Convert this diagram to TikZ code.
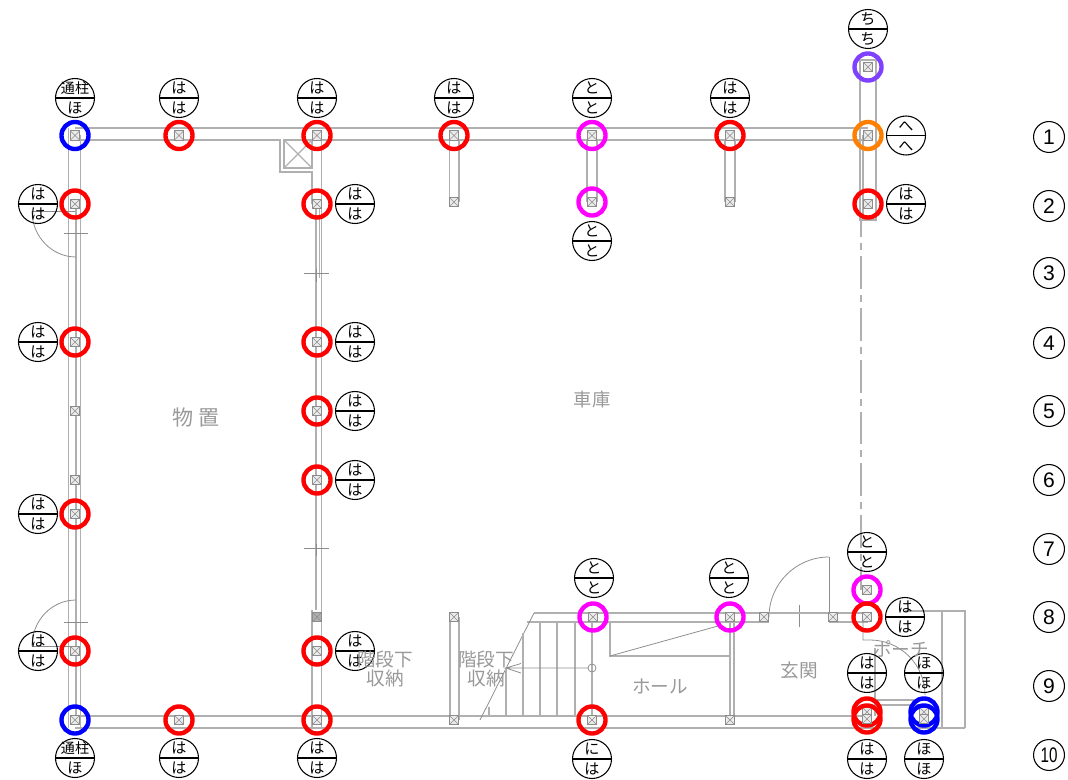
\documentclass[tikz,border=0pt]{standalone}
\usepackage{fontspec}
\setmainfont{Noto Sans CJK JP}
\newfontfamily\numfont{Liberation Sans}
\usetikzlibrary{shapes.multipart}
\definecolor{wallgray}{HTML}{B0B0B0}
\definecolor{postgray}{HTML}{8C8C8C}
\definecolor{roomgray}{HTML}{999999}
\definecolor{ringmagenta}{HTML}{FF00FF}
\definecolor{ringorange}{HTML}{FF8000}
\definecolor{ringpurple}{HTML}{8040FF}
\newcommand\kumi[2]{\rule[-2pt]{0pt}{1pt}#1\nodepart{lower}\rule{0pt}{8.6pt}#2}
\newcommand\tsuu{\makebox[10pt]{\fontsize{8}{8}\selectfont 通柱}}
\tikzset{
  wall/.style={draw=wallgray,line width=0.65pt},
  thinwall/.style={draw=wallgray!80!black,line width=0.45pt},
  post/.style={rectangle,draw=postgray,fill=black!8,line width=0.5pt,minimum size=5.6pt,inner sep=0pt,
    path picture={\draw[postgray,line width=0.35pt] (path picture bounding box.north west) -- (path picture bounding box.south east) (path picture bounding box.north east) -- (path picture bounding box.south west);}},
  ring/.style={circle,line width=2.5pt,minimum size=15.4pt,inner sep=0pt,outer sep=0pt},
  tagc/.style={circle split,draw=black,line width=0.6pt,minimum size=22.2pt,inner sep=0pt,font=\fontsize{8.6}{9}\selectfont},
  gridno/.style={circle,draw=black,line width=0.6pt,minimum size=17.6pt,inner sep=0pt,font=\numfont\fontsize{12}{12}\selectfont},
  room/.style={text=roomgray,inner sep=0pt,align=center,font=\fontsize{10.6}{11.2}\selectfont}
}
\begin{document}
\begin{tikzpicture}[x=0.02cm,y=0.02cm]
\useasboundingbox (0,0) rectangle (1068,-780);
% outer walls
\draw [wall] (75,-128) -- (868,-128);
\draw [wall] (75,-140) -- (280,-140) -- (280,-172) -- (312,-172) -- (312,-204);
\draw [wall] (312,-140) -- (868,-140);
\draw [wall] (284,-140) rectangle (312,-168);
\draw [wall] (284,-140) -- (312,-168) (312,-140) -- (284,-168);
\draw [wall] (68.5,-128) -- (68.5,-728);
\draw [wall] (80.5,-135) -- (80.5,-728);
\draw [wall] (76,-204) -- (76,-716);
\draw [wall] (321.7,-135) -- (321.7,-728);
\draw [wall] (316,-204) -- (316,-610);
\draw [wall] (319.3,-204) -- (319.3,-278);
\draw [wall] (312,-610) -- (312,-728);
\draw [wall] (75,-716) -- (868,-716);
\draw [wall] (75,-728) -- (965,-728);
% stubs
\draw [wall] (449.5,-140) -- (449.5,-202) (459,-140) -- (459,-202);
\draw [wall] (587,-140) -- (587,-202) (597,-140) -- (597,-202);
\draw [wall] (725,-140) -- (725,-202) (735,-140) -- (735,-202);
\draw [wall] (860,-60) -- (860,-220) -- (876,-220) -- (876,-60) -- cycle;
\draw [wall] (863,-135) -- (863,-220);
\draw [wall,line width=0.8pt,dash pattern=on 18.7pt off 3.4pt on 4pt off 3.4pt,dash phase=9pt] (861,-220) -- (861,-590);
\draw [wall] (450,-617) -- (450,-720) (459,-617) -- (459,-720);
% doors and ticks
\draw [thinwall] (32,-211) -- (75,-211);
\draw [thinwall] (32,-211) arc (180:270:44 and 46);
\draw [thinwall] (64,-233) -- (88,-233);
\draw [thinwall] (32,-646) -- (75,-646);
\draw [thinwall] (32,-646) arc (180:90:44 and 46);
\draw [thinwall] (64,-622) -- (88,-622);
\draw [thinwall] (304,-273) -- (329,-273) (316,-269) -- (316,-282);
\draw [thinwall] (304,-548) -- (329,-548) (316,-544) -- (316,-556);
\draw [thinwall] (829,-557) -- (829,-617);
\draw [thinwall] (829,-557) arc (90:180:60);
\draw [thinwall] (799,-605) -- (799,-627);
\draw [wall] (534,-613) -- (868,-613);
\draw [wall] (527,-622) -- (769,-622) (829,-622) -- (868,-622);
% stairs
\draw [thinwall] (534,-613) -- (480,-720);
\draw [wall] (489,-707) -- (489,-716);
\draw [wall] (506,-668) -- (506,-716);
\draw [wall] (523,-633) -- (523,-716);
\draw [wall] (540,-622) -- (540,-716);
\draw [wall] (557,-622) -- (557,-716);
\draw [wall] (575,-622) -- (575,-716);
\draw [wall] (592,-622) -- (592,-716);
\draw [thinwall] (592,-668) circle (4);
\draw [thinwall] (588,-668) -- (506,-668) -- (521,-663.5) (506,-668) -- (521,-673);
% hall
\draw [wall] (610,-622) -- (610,-656) -- (731,-656);
\draw [thinwall] (610,-656) -- (718,-626);
\draw [wall] (730,-622) -- (730,-716) (734,-622) -- (734,-716);
% porch
\draw [wall] (905,-611) -- (965,-611) -- (965,-728);
\draw [wall] (942,-611) -- (942,-728);
\draw [wall] (875,-648) -- (875,-716);
\draw [wall] (875,-700) -- (925,-700) (875,-705) -- (925,-705);
\draw [thinwall] (863,-617) -- (863,-640) -- (870,-640) arc (90:0:55);
% plain posts
\node [post] (pu2) at (454,-202) {};
\node [post] (pw2) at (730,-202) {};
\node [post] (pa5) at (75,-411) {};
\node [post] (pa6) at (75,-480) {};
\node [post,fill=postgray!70] (pc8) at (317,-617) {};
\node [post] (pd8) at (454,-617) {};
\node [post] (pd10) at (454,-720) {};
\node [post] (pg10) at (730,-720) {};
\node [post] (ph8) at (764,-617) {};
\node [post] (pi8) at (833,-617) {};
% posts with rings
\node [post] (pa1) at (75,-135.5) {};
\node [ring,draw=blue] (ra1) at (pa1) {};
\node [post] (pb1) at (179,-135.5) {};
\node [ring,draw=red] (rb1) at (pb1) {};
\node [post] (pc1) at (317,-135.5) {};
\node [ring,draw=red] (rc1) at (pc1) {};
\node [post] (pd1) at (454,-135.5) {};
\node [ring,draw=red] (rd1) at (pd1) {};
\node [post] (pe1) at (592,-135.5) {};
\node [ring,draw=ringmagenta] (re1) at (pe1) {};
\node [post] (pg1) at (730,-135.5) {};
\node [ring,draw=red] (rg1) at (pg1) {};
\node [post] (pj1) at (868,-135.5) {};
\node [ring,draw=ringorange] (rj1) at (pj1) {};
\node [post] (pj0) at (868,-67) {};
\node [ring,draw=ringpurple] (rj0) at (pj0) {};
\node [post] (pa2) at (75,-204) {};
\node [ring,draw=red] (ra2) at (pa2) {};
\node [post] (pc2) at (317,-204) {};
\node [ring,draw=red] (rc2) at (pc2) {};
\node [post] (pe2) at (592,-202) {};
\node [ring,draw=ringmagenta] (re2) at (pe2) {};
\node [post] (pj2) at (868,-204) {};
\node [ring,draw=red] (rj2) at (pj2) {};
\node [post] (pa4) at (75,-342) {};
\node [ring,draw=red] (ra4) at (pa4) {};
\node [post] (pc4) at (317,-342) {};
\node [ring,draw=red] (rc4) at (pc4) {};
\node [post] (pc5) at (317,-411) {};
\node [ring,draw=red] (rc5) at (pc5) {};
\node [post] (pc6) at (317,-480) {};
\node [ring,draw=red] (rc6) at (pc6) {};
\node [post] (pa7) at (75,-514) {};
\node [ring,draw=red] (ra7) at (pa7) {};
\node [post] (pj7) at (867,-590) {};
\node [ring,draw=ringmagenta] (rj7) at (pj7) {};
\node [post] (pe8) at (593,-617) {};
\node [ring,draw=ringmagenta] (re8) at (pe8) {};
\node [post] (pg8) at (730,-617) {};
\node [ring,draw=ringmagenta] (rg8) at (pg8) {};
\node [post] (pj8) at (867,-617) {};
\node [ring,draw=red] (rj8) at (pj8) {};
\node [post] (pa9) at (75,-651) {};
\node [ring,draw=red] (ra9) at (pa9) {};
\node [post] (pc9) at (317,-651) {};
\node [ring,draw=red] (rc9) at (pc9) {};
\node [post] (pa10) at (75,-720) {};
\node [ring,draw=blue] (ra10) at (pa10) {};
\node [post] (pb10) at (179,-720) {};
\node [ring,draw=red] (rb10) at (pb10) {};
\node [post] (pc10) at (317,-720) {};
\node [ring,draw=red] (rc10) at (pc10) {};
\node [post] (pe10) at (592,-720) {};
\node [ring,draw=red] (re10) at (pe10) {};
\node [post] (pj9) at (867,-712) {};
\node [ring,draw=red] (rj9) at (pj9) {};
\node [post] (pj10) at (867,-719) {};
\node [ring,draw=red] (rj10) at (pj10) {};
\node [post] (pk9) at (924,-712) {};
\node [ring,draw=blue] (rk9) at (pk9) {};
\node [post] (pk10) at (924,-719) {};
\node [ring,draw=blue] (rk10) at (pk10) {};
% sign tags
\node [tagc] (ta1) at (75,-98) {\kumi{\tsuu}{ほ}};
\node [tagc] (tb1) at (179,-98) {\kumi{は}{は}};
\node [tagc] (tc1) at (317,-98) {\kumi{は}{は}};
\node [tagc] (td1) at (454,-98) {\kumi{は}{は}};
\node [tagc] (te1) at (592,-98) {\kumi{と}{と}};
\node [tagc] (tg1) at (730,-98) {\kumi{は}{は}};
\node [tagc] (tj0) at (868,-29) {\kumi{ち}{ち}};
\node [tagc] (tj1) at (906,-135.5) {\kumi{へ}{へ}};
\node [tagc] (ta2) at (38,-204) {\kumi{は}{は}};
\node [tagc] (tc2) at (355,-204) {\kumi{は}{は}};
\node [tagc] (te2) at (592,-241) {\kumi{と}{と}};
\node [tagc] (tj2) at (906,-204) {\kumi{は}{は}};
\node [tagc] (ta4) at (38,-342) {\kumi{は}{は}};
\node [tagc] (tc4) at (355,-342) {\kumi{は}{は}};
\node [tagc] (tc5) at (355,-411) {\kumi{は}{は}};
\node [tagc] (tc6) at (355,-480) {\kumi{は}{は}};
\node [tagc] (ta7) at (38,-514) {\kumi{は}{は}};
\node [tagc] (tj7) at (867,-552) {\kumi{と}{と}};
\node [tagc] (te8) at (594,-578) {\kumi{と}{と}};
\node [tagc] (tg8) at (729,-578) {\kumi{と}{と}};
\node [tagc] (tj8) at (905,-617) {\kumi{は}{は}};
\node [tagc] (ta9) at (38,-651) {\kumi{は}{は}};
\node [tagc] (tc9) at (355,-651) {\kumi{は}{は}};
\node [tagc] (tj9) at (867,-673) {\kumi{は}{は}};
\node [tagc] (tk9) at (924,-673) {\kumi{ほ}{ほ}};
\node [tagc] (ta10) at (75,-758) {\kumi{\tsuu}{ほ}};
\node [tagc] (tb10) at (179,-758) {\kumi{は}{は}};
\node [tagc] (tc10) at (317,-758) {\kumi{は}{は}};
\node [tagc] (te10) at (592,-759) {\kumi{に}{は}};
\node [tagc] (tj10) at (867,-759) {\kumi{は}{は}};
\node [tagc] (tk10) at (924,-759) {\kumi{ほ}{ほ}};
% room names
\node [room,font=\fontsize{12}{12}\selectfont] (monooki) at (196,-417) {物 置};
\node [room,font=\fontsize{10.4}{11}\selectfont] (garage) at (592,-400) {車庫};
\node [room] (storeA) at (385,-669) {階段下\\収納};
\node [room] (storeB) at (486,-669) {階段下\\収納};
\node [room] (hall) at (660,-686) {ホール};
\node [room] (genkan) at (799,-670) {玄関};
\node [room] (porch) at (901,-649) {ポーチ};
% grid numbers
\node [gridno] (g1) at (1049,-137) {1};
\node [gridno] (g2) at (1049,-206) {2};
\node [gridno] (g3) at (1049,-273) {3};
\node [gridno] (g4) at (1049,-343) {4};
\node [gridno] (g5) at (1049,-411) {5};
\node [gridno] (g6) at (1049,-480) {6};
\node [gridno] (g7) at (1049,-549) {7};
\node [gridno] (g8) at (1049,-617) {8};
\node [gridno] (g9) at (1049,-686) {9};
\node [gridno] (g10) at (1049,-755) {\scalebox{.72}[1]{10}};
\end{tikzpicture}
\end{document}
